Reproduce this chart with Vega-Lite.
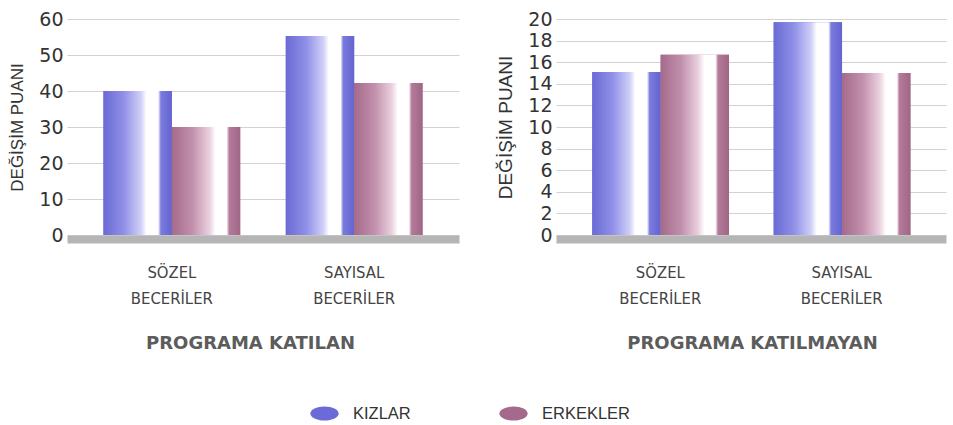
{
  "$schema": "https://vega.github.io/schema/vega-lite/v6.json",
  "background": "white",
  "padding": {"left": 8, "top": 10, "right": 6, "bottom": 5},
  "spacing": 37,
  "datasets": {
    "puanlar": [
      {"program": "PROGRAMA KATILAN", "beceri": "SÖZEL BECERİLER", "grup": "KIZLAR", "puan": 40},
      {"program": "PROGRAMA KATILAN", "beceri": "SÖZEL BECERİLER", "grup": "ERKEKLER", "puan": 30},
      {"program": "PROGRAMA KATILAN", "beceri": "SAYISAL BECERİLER", "grup": "KIZLAR", "puan": 55.3},
      {"program": "PROGRAMA KATILAN", "beceri": "SAYISAL BECERİLER", "grup": "ERKEKLER", "puan": 42.2},
      {"program": "PROGRAMA KATILMAYAN", "beceri": "SÖZEL BECERİLER", "grup": "KIZLAR", "puan": 15.1},
      {"program": "PROGRAMA KATILMAYAN", "beceri": "SÖZEL BECERİLER", "grup": "ERKEKLER", "puan": 16.7},
      {"program": "PROGRAMA KATILMAYAN", "beceri": "SAYISAL BECERİLER", "grup": "KIZLAR", "puan": 19.7},
      {"program": "PROGRAMA KATILMAYAN", "beceri": "SAYISAL BECERİLER", "grup": "ERKEKLER", "puan": 15.0}
    ]
  },
  "hconcat": [
    {
      "width": 392,
      "height": 216,
      "data": {"name": "puanlar"},
      "transform": [{"filter": "datum.program === 'PROGRAMA KATILAN'"}],
      "encoding": {
        "x": {
          "field": "beceri", "type": "nominal",
          "sort": ["SÖZEL BECERİLER", "SAYISAL BECERİLER"],
          "scale": {"paddingInner": 0.25, "paddingOuter": 0.2},
          "axis": {"title": "PROGRAMA KATILAN", "titleX": 183}
        },
        "xOffset": {
          "field": "grup", "type": "nominal",
          "scale": {"domain": ["KIZLAR", "ERKEKLER"], "paddingInner": 0, "paddingOuter": 0}
        },
        "y": {
          "field": "puan", "type": "quantitative",
          "scale": {"domain": [0, 60], "nice": false},
          "axis": {"values": [0, 10, 20, 30, 40, 50, 60], "title": "DEĞİŞİM PUANI", "titleFontSize": 17}
        }
      },
      "layer": [
        {
          "mark": {"type": "bar"},
          "encoding": {
            "color": {
              "field": "grup", "type": "nominal",
              "scale": {"domain": ["KIZLAR", "ERKEKLER"], "range": ["#6b6bd8", "#a46a8c"]},
              "legend": {
                "orient": "none", "legendX": 243, "legendY": 380, "direction": "horizontal", "title": null
              }
            }
          }
        },
        {
          "transform": [{"filter": "datum.grup === 'KIZLAR'"}],
          "mark": {
            "type": "bar",
            "fill": {
              "gradient": "linear", "x1": 0, "x2": 1, "y1": 0, "y2": 0,
              "stops": [
                {"offset": 0, "color": "#6a6ad4"},
                {"offset": 0.3, "color": "#9090e8"},
                {"offset": 0.55, "color": "#d0d0f8"},
                {"offset": 0.63, "color": "#ffffff"},
                {"offset": 0.8, "color": "#ffffff"},
                {"offset": 0.84, "color": "#7a7ade"},
                {"offset": 1, "color": "#6464d0"}
              ]
            }
          }
        },
        {
          "transform": [{"filter": "datum.grup === 'ERKEKLER'"}],
          "mark": {
            "type": "bar",
            "fill": {
              "gradient": "linear", "x1": 0, "x2": 1, "y1": 0, "y2": 0,
              "stops": [
                {"offset": 0, "color": "#a46a8a"},
                {"offset": 0.3, "color": "#c290ac"},
                {"offset": 0.55, "color": "#ead0de"},
                {"offset": 0.64, "color": "#ffffff"},
                {"offset": 0.8, "color": "#ffffff"},
                {"offset": 0.84, "color": "#b47a9a"},
                {"offset": 1, "color": "#a06686"}
              ]
            }
          }
        }
      ]
    },
    {
      "width": 390,
      "height": 216,
      "data": {"name": "puanlar"},
      "transform": [{"filter": "datum.program === 'PROGRAMA KATILMAYAN'"}],
      "encoding": {
        "x": {
          "field": "beceri", "type": "nominal",
          "sort": ["SÖZEL BECERİLER", "SAYISAL BECERİLER"],
          "scale": {"paddingInner": 0.25, "paddingOuter": 0.2},
          "axis": {"title": "PROGRAMA KATILMAYAN", "titleX": 196}
        },
        "xOffset": {
          "field": "grup", "type": "nominal",
          "scale": {"domain": ["KIZLAR", "ERKEKLER"], "paddingInner": 0, "paddingOuter": 0}
        },
        "y": {
          "field": "puan", "type": "quantitative",
          "scale": {"domain": [0, 20], "nice": false},
          "axis": {"values": [0, 2, 4, 6, 8, 10, 12, 14, 16, 18, 20], "title": "DEĞİŞİM PUANI", "titleFontSize": 19}
        }
      },
      "layer": [
        {
          "mark": {"type": "bar"},
          "encoding": {
            "color": {
              "field": "grup", "type": "nominal",
              "scale": {"domain": ["KIZLAR", "ERKEKLER"], "range": ["#6b6bd8", "#a46a8c"]}
            }
          }
        },
        {
          "transform": [{"filter": "datum.grup === 'KIZLAR'"}],
          "mark": {
            "type": "bar",
            "fill": {
              "gradient": "linear", "x1": 0, "x2": 1, "y1": 0, "y2": 0,
              "stops": [
                {"offset": 0, "color": "#6a6ad4"},
                {"offset": 0.3, "color": "#9090e8"},
                {"offset": 0.55, "color": "#d0d0f8"},
                {"offset": 0.63, "color": "#ffffff"},
                {"offset": 0.8, "color": "#ffffff"},
                {"offset": 0.84, "color": "#7a7ade"},
                {"offset": 1, "color": "#6464d0"}
              ]
            }
          }
        },
        {
          "transform": [{"filter": "datum.grup === 'ERKEKLER'"}],
          "mark": {
            "type": "bar",
            "fill": {
              "gradient": "linear", "x1": 0, "x2": 1, "y1": 0, "y2": 0,
              "stops": [
                {"offset": 0, "color": "#a46a8a"},
                {"offset": 0.3, "color": "#c290ac"},
                {"offset": 0.55, "color": "#ead0de"},
                {"offset": 0.64, "color": "#ffffff"},
                {"offset": 0.8, "color": "#ffffff"},
                {"offset": 0.84, "color": "#b47a9a"},
                {"offset": 1, "color": "#a06686"}
              ]
            }
          }
        }
      ]
    }
  ],
  "config": {
    "view": {"stroke": null},
    "bar": {"stroke": null},
    "axisX": {
      "domainColor": "#b5b5b5",
      "domainWidth": 8,
      "offset": 4,
      "ticks": false,
      "grid": false,
      "labelAngle": 0,
      "labelExpr": "split(datum.label, ' ')",
      "labelFont": "Liberation Sans Narrow, DejaVu Sans Condensed, Liberation Sans",
      "labelFontSize": 16.5,
      "labelLineHeight": 26,
      "labelColor": "#444444",
      "labelPadding": 25,
      "titleFont": "DejaVu Sans",
      "titleFontSize": 18,
      "titleFontWeight": "bold",
      "titleColor": "#5c5c5c",
      "titlePadding": 28
    },
    "axisY": {
      "domain": false,
      "ticks": false,
      "grid": true,
      "gridColor": "#d2d2d2",
      "gridWidth": 1,
      "labelFont": "DejaVu Sans",
      "labelFontSize": 19,
      "labelColor": "#333333",
      "labelPadding": 4,
      "titleFont": "Liberation Sans",
      "titleFontWeight": "normal",
      "titleColor": "#333333",
      "titlePadding": 12
    },
    "legend": {
      "labelFont": "Liberation Sans",
      "labelFontSize": 16.5,
      "labelColor": "#333333",
      "symbolType": "M -1 0 A 1 0.5 0 1 1 1 0 A 1 0.5 0 1 1 -1 0 Z",
      "symbolSize": 800,
      "symbolStrokeWidth": 0,
      "symbolOpacity": 1,
      "labelOffset": 14,
      "columnPadding": 88
    }
  }
}
